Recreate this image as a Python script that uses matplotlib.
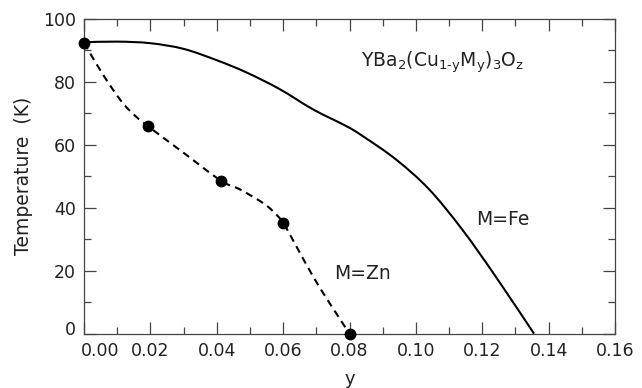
import matplotlib
matplotlib.use('Agg')
import matplotlib.pyplot as plt
import matplotlib.transforms as mtransforms
from matplotlib.path import Path
from matplotlib.patches import PathPatch
from matplotlib.ticker import MultipleLocator

# Zn substituted samples (measured points)
zn_y = [0.0, 0.0192, 0.0412, 0.0600, 0.0800]
zn_tc = [92.3, 65.9, 48.6, 35.2, 0.0]

# dashed guide through the Zn points
zn_guide_y = [0.0, 0.0040, 0.0080, 0.0120, 0.0160, 0.0192, 0.0299, 0.0412, 0.0470, 0.0539, 0.0569,
              0.0600, 0.0640, 0.0690, 0.0740, 0.0800]
zn_guide_tc = [92.3, 85.2, 78.6, 72.8, 68.6, 65.9, 57.5, 48.6, 45.8, 41.5, 38.9,
               35.2, 27.7, 18.2, 9.7, 0.0]

# solid Fe curve
fe_y = [0.0, 0.010, 0.020, 0.030, 0.040, 0.049, 0.059, 0.069, 0.079, 0.084, 0.094,
        0.104, 0.114, 0.124, 0.1356]
fe_tc = [92.5, 92.7, 92.2, 90.4, 86.8, 82.9, 77.6, 71.2, 65.9, 62.7, 55.3,
         45.8, 33.0, 18.2, 0.0]

xticks = [0.00, 0.02, 0.04, 0.06, 0.08, 0.10, 0.12, 0.14, 0.16]
yticks = [0, 20, 40, 60, 80, 100]


def smooth_path(xs, ys):
    # catmull-rom through the read points, drawn as cubic bezier segments
    pts = list(zip(xs, ys))
    verts = [pts[0]]
    codes = [Path.MOVETO]
    n = len(pts)
    for i in range(n - 1):
        p0 = pts[max(i - 1, 0)]
        p1 = pts[i]
        p2 = pts[i + 1]
        p3 = pts[min(i + 2, n - 1)]
        c1 = (p1[0] + (p2[0] - p0[0]) / 6, p1[1] + (p2[1] - p0[1]) / 6)
        c2 = (p2[0] - (p3[0] - p1[0]) / 6, p2[1] - (p3[1] - p1[1]) / 6)
        verts += [c1, c2, p2]
        codes += [Path.CURVE4] * 3
    return Path(verts, codes)


plt.rcParams['font.family'] = ['DejaVu Sans']
plt.rcParams['mathtext.fontset'] = 'dejavusans'

txt = '#222222'
fig = plt.figure(figsize=(6.42, 3.88), dpi=100)
ax = fig.add_axes([0.1308, 0.140, 0.8272, 0.812])

ax.add_patch(PathPatch(smooth_path(fe_y, fe_tc), fill=False, color='black', lw=1.5, clip_on=False))
ax.add_patch(PathPatch(smooth_path(zn_guide_y, zn_guide_tc), fill=False, color='black', lw=1.5,
                       ls=(0, (3.5, 2.5)), clip_on=False))
ax.plot(zn_y, zn_tc, 'o', color='black', ms=7.5, clip_on=False, zorder=5)

ax.set_xlim(0, 0.16)
ax.set_ylim(0, 100)
ax.set_xticks(xticks)
ax.set_xticklabels(['%.2f' % v for v in xticks])
ax.set_yticks(yticks)
ax.xaxis.set_minor_locator(MultipleLocator(0.01))
ax.yaxis.set_minor_locator(MultipleLocator(10))
ax.tick_params(which='both', direction='in', top=True, right=True, color='#444444',
               labelsize=12.5, labelcolor=txt, width=0.9)
ax.tick_params(which='major', length=8.5, pad=6)
ax.tick_params(which='minor', length=5)
for s in ax.spines.values():
    s.set_color('#444444')
    s.set_linewidth(0.9)

# nudge the corner labels away from the origin
lbl = ax.get_xticklabels()[0]
lbl.set_transform(lbl.get_transform() + mtransforms.ScaledTranslation(0.16, 0, fig.dpi_scale_trans))
lbl = ax.get_yticklabels()[0]
lbl.set_transform(lbl.get_transform() + mtransforms.ScaledTranslation(0, 0.06, fig.dpi_scale_trans))

ax.set_xlabel('y', fontsize=13, color=txt, labelpad=7)
ax.set_ylabel('Temperature  (K)', fontsize=13.5, color=txt, labelpad=7)

ax.text(0.0835, 86.1, 'YBa$_\\mathregular{2}$(Cu$_\\mathregular{1\u2010y}$M$_\\mathregular{y}$)$_\\mathregular{3}$O$_\\mathregular{z}$',
        fontsize=13.5, color=txt, va='center', ha='left')
ax.text(0.1181, 36.1, 'M=Fe', fontsize=13.5, color=txt, va='center', ha='left')
ax.text(0.0755, 19.0, 'M=Zn', fontsize=13.5, color=txt, va='center', ha='left')

fig.savefig('out.png', dpi=100)
